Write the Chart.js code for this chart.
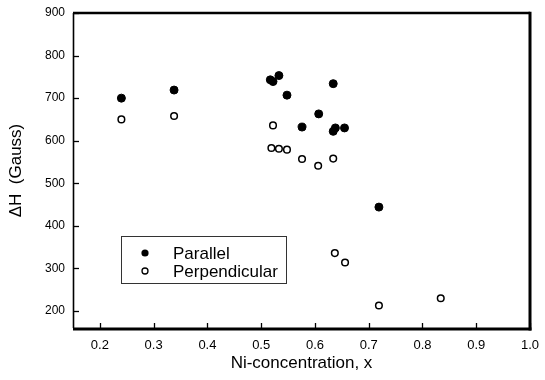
<!DOCTYPE html>
<html>
<head>
<meta charset="utf-8">
<script src="https://cdn.jsdelivr.net/npm/chart.js@4/dist/chart.umd.min.js"></script>
<style>
  body { margin: 0; background: #fff; }
  #wrap { width: 545px; height: 380px; }
</style>
</head>
<body>
<div id="wrap"><canvas id="chartNi" width="545" height="380"></canvas></div>
<script>
// values
var seriesNames = ['Parallel', 'Perpendicular'];
var parallelX = [0.24, 0.338, 0.517, 0.522, 0.533, 0.548, 0.576, 0.607, 0.634, 0.634, 0.638, 0.655, 0.719];
var parallelY = [700, 719, 743, 739, 753, 707, 632, 663, 734, 622, 630, 630, 444];
var perpX = [0.24, 0.338, 0.522, 0.519, 0.533, 0.548, 0.576, 0.606, 0.634, 0.637, 0.656, 0.719, 0.834];
var perpY = [650, 658, 636, 583, 581, 579, 557, 541, 558, 336, 314, 213, 230];
var xTicks = [0.2, 0.3, 0.4, 0.5, 0.6, 0.7, 0.8, 0.9, 1.0];
var yTicks = [200, 300, 400, 500, 600, 700, 800, 900];

function pts(xs, ys) {
    return xs.map(function(x, i){ return {x: x, y: ys[i]}; });
}

var font = 'Liberation Sans, Arial, sans-serif';

function line(c, x1, y1, x2, y2) {
    c.beginPath(); c.moveTo(x1, y1); c.lineTo(x2, y2); c.stroke();
}

// frame, inward ticks and the boxed legend
var framePlugin = {
    id: 'frame',
    afterDraw: function(chart){
        var c = chart.ctx;
        var xs = chart.scales.x, ys = chart.scales.y;
        var L = xs.left, R = xs.right, T = ys.top, B = ys.bottom;
        c.save();
        c.strokeStyle = 'black';
        c.fillStyle = 'black';
        c.lineWidth = 1.3;
        xTicks.forEach(function(v){
            var px = Math.round(xs.getPixelForValue(v)) + 0.5;
            line(c, px, B, px, B - 5);
        });
        yTicks.forEach(function(v){
            var py = Math.round(ys.getPixelForValue(v)) + 0.5;
            line(c, L, py, L + 6, py);
        });
        c.lineWidth = 1.6;
        line(c, L + 0.5, T, L + 0.5, B);
        c.lineWidth = 2.5;
        line(c, L, T, R, T);
        c.lineWidth = 3;
        line(c, L, B + 1, R + 1.5, B + 1);
        line(c, R, T - 1.2, R, B + 2.5);

        // legend
        c.lineWidth = 1;
        c.strokeStyle = '#333';
        c.strokeRect(121.5, 236.5, 165, 47);
        c.strokeStyle = 'black';
        c.font = '17px ' + font;
        c.textBaseline = 'middle';
        var rows = [253, 271];
        chart.data.datasets.forEach(function(ds, i){
            c.beginPath();
            c.arc(145, rows[i], i === 0 ? 3.6 : 3, 0, Math.PI * 2);
            if (i === 0) { c.fill(); }
            else { c.lineWidth = 1.3; c.stroke(); }
            c.fillText(ds.label, 173, rows[i] + 1);
        });
        c.restore();
    }
};

new Chart(document.getElementById('chartNi'), {
    type: 'scatter',
    data: {
        datasets: [{
            label: seriesNames[0],
            data: pts(parallelX, parallelY),
            pointRadius: 4,
            pointBackgroundColor: '#000',
            pointBorderColor: '#000',
            pointBorderWidth: 1
        }, {
            label: seriesNames[1],
            data: pts(perpX, perpY),
            pointRadius: 3.3,
            pointBackgroundColor: '#fff',
            pointBorderColor: '#000',
            pointBorderWidth: 1.5
        }]
    },
    options: {
        responsive: false,
        animation: false,
        layout: { padding: { top: 13, right: 15, left: 0, bottom: 0 } },
        plugins: { legend: { display: false }, tooltip: { enabled: false } },
        scales: {
            x: {
                type: 'linear', min: 0.15, max: 1.0,
                afterBuildTicks: function(s){ s.ticks = xTicks.map(function(v){ return {value: v}; }); },
                afterFit: function(s){ s.height = 52; },
                grid: { display: false, tickLength: 10 },
                border: { display: false },
                ticks: { color: '#000', padding: 0, font: { family: font, size: 13 },
                         callback: function(v){ return v.toFixed(1); } },
                title: { display: true, text: 'Ni-concentration, x', color: '#000',
                         font: { family: font, size: 17 }, padding: { top: 0, bottom: 6 } }
            },
            y: {
                min: 160, max: 900,
                afterBuildTicks: function(s){ s.ticks = yTicks.map(function(v){ return {value: v}; }); },
                afterFit: function(s){ s.width = 73; },
                grid: { display: false, tickLength: 8 },
                border: { display: false },
                ticks: { color: '#000', padding: 0, font: { family: font, size: 12 } },
                title: { display: true, text: 'ΔH  (Gauss)', color: '#000',
                         font: { family: font, size: 17 }, padding: { top: 6, bottom: 0 } }
            }
        }
    },
    plugins: [framePlugin]
});
</script>
</body>
</html>
